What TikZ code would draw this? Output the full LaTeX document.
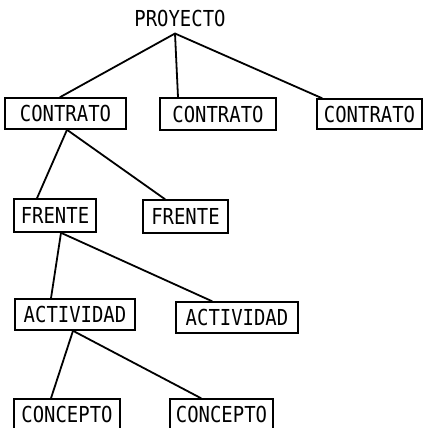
\documentclass[tikz,border=0pt]{standalone}
\usepackage{fontspec}
\newfontfamily\tw[FakeStretch=0.86]{DejaVu Sans Mono}
\begin{document}
\begin{tikzpicture}[x=1pt,y=-1pt,
  lbl/.style={inner sep=0pt, font=\tw\fontsize{22}{22}\selectfont},
  box/.style={lbl, draw, line width=1.6pt},
  link/.style={line width=1.8pt, line cap=round}]
\useasboundingbox (0,0) rectangle (423,428);
\node[lbl, inner sep=7pt] (p) at (180,18) {PROYECTO};
\node[box, minimum width=121pt, minimum height=31pt] (c1) at (65.5,113.5) {CONTRATO};
\node[box, minimum width=116pt, minimum height=32pt] (c2) at (218,114) {CONTRATO};
\node[box, minimum width=105pt, minimum height=30pt] (c3) at (369.5,114) {CONTRATO};
\node[box, minimum width=82pt, minimum height=33pt] (f1) at (55,215.5) {FRENTE};
\node[box, minimum width=85pt, minimum height=33pt] (f2) at (185.5,216.5) {FRENTE};
\node[box, minimum width=120pt, minimum height=31pt] (a1) at (75,314.5) {ACTIVIDAD};
\node[box, minimum width=122pt, minimum height=31pt] (a2) at (237,317.5) {ACTIVIDAD};
\node[box, minimum width=106pt, minimum height=30pt] (k1) at (67,414) {CONCEPTO};
\node[box, minimum width=103pt, minimum height=30pt] (k2) at (221.5,414) {CONCEPTO};
\coordinate (pa) at ([xshift=-5pt]p.south);
\coordinate (ca) at ([xshift=1.5pt]c1.south);
\coordinate (fa) at ([xshift=6pt]f1.south);
\coordinate (aa) at ([xshift=-2pt]a1.south);
\draw[link] (pa) -- ([xshift=-5.5pt]c1.north);
\draw[link] (pa) -- ([xshift=-40pt]c2.north);
\draw[link] (pa) -- ([xshift=-47.5pt]c3.north);
\draw[link] (ca) -- ([xshift=-18pt]f1.north);
\draw[link] (ca) -- ([xshift=-20.5pt]f2.north);
\draw[link] (fa) -- ([xshift=-24pt]a1.north);
\draw[link] (fa) -- ([xshift=-25pt]a2.north);
\draw[link] (aa) -- ([xshift=-16pt]k1.north);
\draw[link] (aa) -- ([xshift=-20.5pt]k2.north);
\end{tikzpicture}
\end{document}
